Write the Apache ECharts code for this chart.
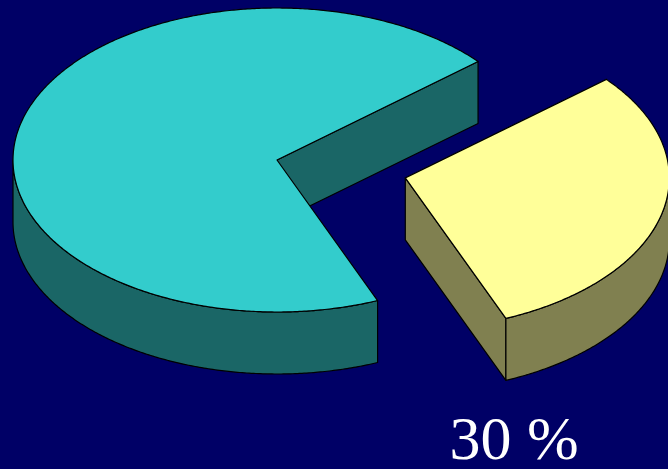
<!DOCTYPE html>
<html>
<head>
<meta charset="utf-8">
<script src="https://cdn.jsdelivr.net/npm/echarts@6/dist/echarts.min.js"></script>
<style>html,body{margin:0;padding:0;background:#000066;}#chart{width:668px;height:469px;}</style>
</head>
<body>
<div id="chart"></div>
<script>
// ---- data ----
const categories = ['Other', 'Share'];
const values = [70, 30];
const explode = [0, 0.5];
const showLabel = [false, true];
const topColors = ['#33CCCC', '#FFFF99'];
const sideColors = ['#1A6666', '#808050'];

// ---- geometry ----
const CX = 277, CY = 160, RX = 264, RY = 152, DEPTH = 62;
const START_ANGLE = 40.4; // degrees, first slice runs counter-clockwise
const LABEL_X = 514, LABEL_Y = 443;

const total = values.reduce((a, b) => a + b, 0);
const rad = d => d * Math.PI / 180;

function renderItem(params, api) {
  const i = params.dataIndex;
  const v = api.value(0);
  let cum = 0;
  for (let k = 0; k < i; k++) cum += values[k];
  const a0 = START_ANGLE + cum / total * 360;
  const a1 = a0 + v / total * 360;
  const mid = (a0 + a1) / 2;
  const dx = explode[i] * RX * Math.cos(rad(mid));
  const dy = -explode[i] * RY * Math.sin(rad(mid));
  const P = (t, h) => [CX + dx + RX * Math.cos(rad(t)), CY + dy - RY * Math.sin(rad(t)) + (h || 0)];
  const C = (h) => [CX + dx, CY + dy + (h || 0)];
  const arc = (s, e, h) => {
    const pts = [];
    const n = Math.max(2, Math.ceil(Math.abs(e - s) / 0.5));
    for (let j = 0; j <= n; j++) pts.push(P(s + (e - s) * j / n, h));
    return pts;
  };
  const edge = { stroke: '#000', lineWidth: 1.2, lineJoin: 'round' };
  const children = [];
  // radial walls
  if (Math.cos(rad(a0)) > 0) {
    children.push({ type: 'polygon', shape: { points: [C(), P(a0), P(a0, DEPTH), C(DEPTH)] },
      style: Object.assign({ fill: sideColors[i] }, edge) });
  }
  if (Math.cos(rad(a1)) < 0) {
    children.push({ type: 'polygon', shape: { points: [C(), P(a1), P(a1, DEPTH), C(DEPTH)] },
      style: Object.assign({ fill: sideColors[i] }, edge) });
  }
  // outer curved wall (front half only)
  for (let k = -1; k <= 2; k++) {
    const s = Math.max(a0, 180 + 360 * k), e = Math.min(a1, 360 + 360 * k);
    if (e > s) {
      const pts = arc(s, e, 0).concat(arc(e, s, DEPTH));
      children.push({ type: 'polygon', shape: { points: pts },
        style: Object.assign({ fill: sideColors[i] }, edge) });
    }
  }
  // top face
  children.push({ type: 'polygon', shape: { points: [C()].concat(arc(a0, a1, 0)) },
    style: Object.assign({ fill: topColors[i] }, edge) });
  if (showLabel[i]) {
    children.push({ type: 'text', style: {
      text: Math.round(v / total * 100) + ' %', x: LABEL_X, y: LABEL_Y,
      fill: '#FFFFFF', fontSize: 62, fontFamily: '"Liberation Serif", "Times New Roman", serif',
      align: 'center', verticalAlign: 'middle' } });
  }
  return { type: 'group', children };
}

const chart = echarts.init(document.getElementById('chart'), null, { renderer: 'canvas' });
chart.setOption({
  backgroundColor: '#000066',
  animation: false,
  series: [{
    type: 'custom',
    coordinateSystem: 'none',
    silent: true,
    renderItem,
    data: values.map((v, i) => ({ name: categories[i], value: [v] }))
  }]
});
</script>
</body>
</html>
